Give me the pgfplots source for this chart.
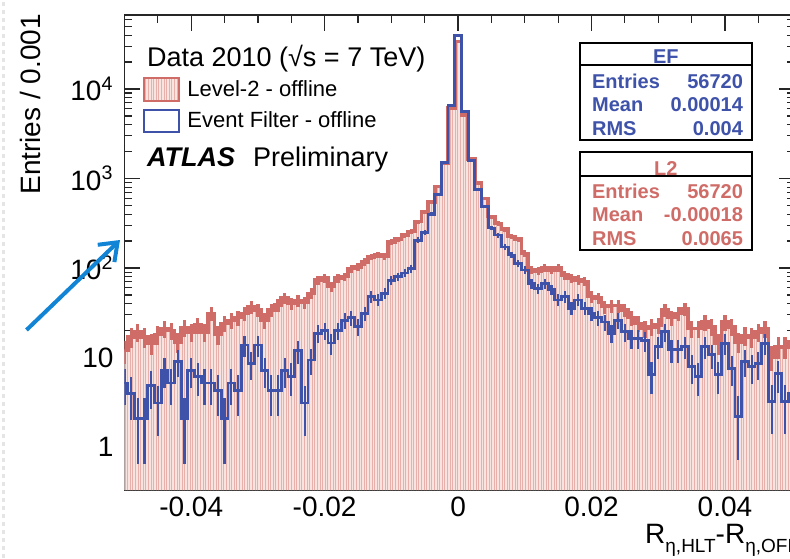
\documentclass[border=0pt]{standalone}
\usepackage{fontspec}
\setmainfont{Liberation Sans}
\usepackage{pgfplots}
\usepackage{pgfplotstable}
\pgfplotsset{compat=1.18}
\usetikzlibrary{patterns.meta,arrows.meta}

\definecolor{ltwored}{RGB}{208,108,104}
\definecolor{efblue}{RGB}{62,82,170}
\definecolor{fillpink}{RGB}{247,228,225}
\definecolor{hatchred}{RGB}{232,176,171}
\definecolor{arrowblue}{RGB}{18,132,214}

% bin centre, Level-2 entries, Event Filter entries
\pgfplotstableread{
x l2 ef
-0.050 12 5.2
-0.049 17 4.0
-0.048 19.4 2.1
-0.047 17 2.1
-0.046 14.4 4.9
-0.045 18 3.1
-0.044 21 7.2
-0.043 20 5.2
-0.042 15 9.0
-0.041 21.5 2.1
-0.040 19.4 7.2
-0.039 23 6.2
-0.038 19.4 5.2
-0.037 31 5.2
-0.036 18 4.3
-0.035 24 2.1
-0.034 26 5.2
-0.033 28 4.3
-0.032 31 13.8
-0.031 37 8.6
-0.030 34 13.8
-0.029 26 7.2
-0.028 34 4.3
-0.027 38.6 4.3
-0.026 46 7.2
-0.025 40 6.2
-0.024 43 12
-0.023 41 3.1
-0.022 52 9.4
-0.021 73 18.7
-0.020 77 20
-0.019 62 14.5
-0.018 77 20
-0.017 80 26
-0.016 99 28
-0.015 103 22
-0.014 117 31
-0.013 133 48
-0.012 140 44
-0.011 136 52
-0.010 196 73
-0.009 210 80
-0.008 234 88
-0.007 255 98
-0.006 330 205
-0.005 425 250
-0.004 550 400
-0.003 810 660
-0.002 1480 1520
-0.001 6100 6600
0.000 34000 40000
0.001 5100 5600
0.002 1650 1600
0.003 885 760
0.004 600 490
0.005 375 280
0.006 315 234
0.007 272 172
0.008 224 140
0.009 210 112
0.010 145 95
0.011 95 67
0.012 93 59
0.013 100 67
0.014 95 57
0.015 100 44
0.016 83 48
0.017 77 35.5
0.018 74 44
0.019 71 35.5
0.020 48 31
0.021 46 28
0.022 37 25
0.023 38 18.7
0.024 38 26
0.025 34 19.4
0.026 28 16.4
0.027 24 16.4
0.028 21 15.5
0.029 22 6.4
0.030 23 13.2
0.031 34 19.4
0.032 28 12.2
0.033 31 12.2
0.034 35 13.2
0.035 21 7.9
0.036 21 6.2
0.037 25 13.2
0.038 22 10.7
0.039 14.4 6.4
0.040 25 14.4
0.041 22 7.6
0.042 15 2.2
0.043 17.5 9.0
0.044 17 7.9
0.045 19.4 8.5
0.046 21 14.4
0.047 10.2 3.2
0.048 13.2 6.6
0.049 13.2 3.2
0.050 15 4
}\rdata

\begin{document}
\begin{tikzpicture}
\begin{axis}[
  scale only axis, width=335.25pt, height=237.5pt,
  xmin=-0.05, xmax=0.0505,
  ymode=log, ymin=0.331, ymax=67100,
  log origin y=infty,
  axis line style={line width=0.9pt, black!85},
  tick align=inside,
  major tick length=8pt, minor tick length=4pt,
  tick style={line width=0.6pt, black!85},
  scaled x ticks=false,
  xtick={-0.04,-0.02,0,0.02,0.04},
  xticklabels={-0.04,-0.02,0,0.02,0.04},
  minor xtick={-0.045,-0.035,-0.03,-0.025,-0.015,-0.01,-0.005,0.005,0.01,0.015,0.025,0.03,0.035,0.045},
  ytick={1,10,100,1000,10000},
  yticklabels={1,10,10\textsuperscript{2},10\textsuperscript{3},10\textsuperscript{4}},
  minor ytick={0.4,0.5,0.6,0.7,0.8,0.9,2,3,4,5,6,7,8,9,20,30,40,50,60,70,80,90,200,300,400,500,600,700,800,900,2000,3000,4000,5000,6000,7000,8000,9000,20000,30000,40000,50000,60000},
  ticklabel style={font=\fontsize{14}{16}\selectfont},
  yticklabel style={xshift=-2pt},
  ylabel={Entries / 0.001},
  ylabel style={at={(axis description cs:-0.126,1.0168)}, anchor=base east, font=\fontsize{14}{16}\selectfont},
  xlabel={R\raisebox{-4.5pt}{\fontsize{9.5}{11}\selectfont η,HLT}-R\raisebox{-4.5pt}{\fontsize{9.5}{11}\selectfont η,OFF}},
  xlabel style={at={(axis description cs:0.766,-0.1116)}, anchor=base west, font=\fontsize{14}{16}\selectfont},
  legend style={at={(axis description cs:0.0276,0.8695)}, anchor=north west, draw=none, fill=none,
    inner sep=0pt, font=\fontsize{11}{13}\selectfont, row sep=3.5pt, nodes={inner sep=0.5pt},
    /tikz/every odd column/.append style={column sep=3pt}},
  legend cell align=left,
]
\addplot[const plot mark mid, draw=none, preaction={fill=fillpink},
  pattern={Lines[angle=90,distance=1.3pt,line width=0.3pt]}, pattern color=hatchred,
  legend image code/.code={\draw[line width=1pt, draw=ltwored, preaction={fill=fillpink},
    pattern={Lines[angle=90,distance=1.3pt,line width=0.3pt]}, pattern color=hatchred]
    (0pt,-5.75pt) rectangle (17.5pt,5.75pt);}]
  table[x=x, y=l2] {\rdata} \closedcycle;
\addlegendentry{Level-2 - offline}

\addplot[const plot mark mid, ltwored, line width=1.8pt, forget plot,
  error bars/.cd, y dir=both, y explicit, error mark=none,
  error bar style={line width=1.6pt, ltwored}]
  table[x=x, y=l2, y error expr=sqrt(\thisrow{l2})] {\rdata};

\addplot[const plot mark mid, efblue, line width=1.4pt,
  legend image code/.code={\draw[line width=1pt, draw=efblue, fill=none]
    (0pt,-5.5pt) rectangle (17.5pt,5.5pt);},
  error bars/.cd, y dir=both, y explicit, error mark=none,
  error bar style={line width=1.1pt, efblue}]
  table[x=x, y=ef, y error expr=sqrt(\thisrow{ef})] {\rdata};
\addlegendentry{Event Filter - offline}
\end{axis}

% texts on the pad
\node[anchor=base west, inner sep=0pt, font=\fontsize{13.5}{16}\selectfont] at (11.1pt,211.7pt) {Data 2010 (√s = 7 TeV)};
\node[anchor=base west, inner sep=0pt, font=\fontsize{13.5}{16}\selectfont] at (11.1pt,161.7pt) {{\bfseries\itshape ATLAS}\hspace{9pt}Preliminary};

% stat boxes
\begin{scope}[font=\fontsize{10}{12}\selectfont\bfseries]
\draw[line width=1pt, fill=white] (227.75pt,175pt) rectangle (313.6pt,223.7pt);
\node[efblue, inner sep=0pt] at (270.7pt,216.8pt) {EF};
\draw[line width=1pt] (227.75pt,212.5pt) -- (313.6pt,212.5pt);
\node[efblue, anchor=west, inner sep=0pt] at (233.6pt,204.2pt) {Entries};
\node[efblue, anchor=east, inner sep=0pt] at (309.4pt,204.2pt) {56720};
\node[efblue, anchor=west, inner sep=0pt] at (233.6pt,192.5pt) {Mean};
\node[efblue, anchor=east, inner sep=0pt] at (309.4pt,192.5pt) {0.00014};
\node[efblue, anchor=west, inner sep=0pt] at (233.6pt,180.8pt) {RMS};
\node[efblue, anchor=east, inner sep=0pt] at (309.4pt,180.8pt) {0.004};

\draw[line width=1pt, fill=white] (227.75pt,120pt) rectangle (313.6pt,169.2pt);
\node[ltwored, inner sep=0pt] at (270.7pt,160.5pt) {L2};
\draw[line width=1pt] (227.75pt,157.2pt) -- (313.6pt,157.2pt);
\node[ltwored, anchor=west, inner sep=0pt] at (233.6pt,149.2pt) {Entries};
\node[ltwored, anchor=east, inner sep=0pt] at (309.4pt,149.2pt) {56720};
\node[ltwored, anchor=west, inner sep=0pt] at (233.6pt,137.5pt) {Mean};
\node[ltwored, anchor=east, inner sep=0pt] at (309.4pt,137.5pt) {-0.00018};
\node[ltwored, anchor=west, inner sep=0pt] at (233.6pt,125.8pt) {RMS};
\node[ltwored, anchor=east, inner sep=0pt] at (309.4pt,125.8pt) {0.0065};
\end{scope}

% slide annotation
\draw[gray!20, line width=1.5pt, dash pattern=on 2pt off 2pt] (-60.5pt,-34pt) -- (-60.5pt,245pt);
\draw[arrowblue, line width=2pt, -{Straight Barb[length=8pt,width=12pt]}] (-49pt,80pt) -- (-2.25pt,125pt);

\pgfresetboundingbox
\useasboundingbox (-62.25pt,-34pt) rectangle (332.75pt,245pt);
\end{tikzpicture}
\end{document}
